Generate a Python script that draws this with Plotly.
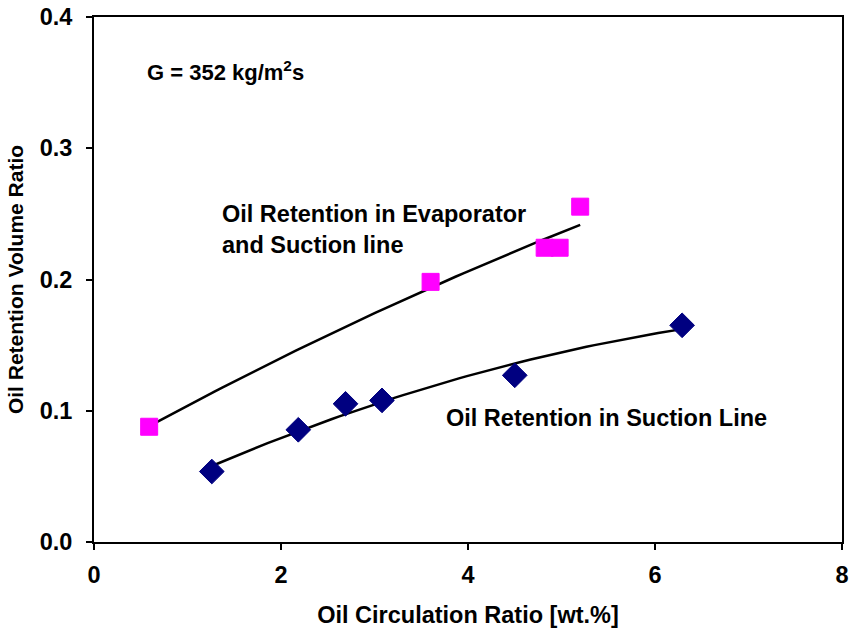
import numpy as np
import plotly.graph_objects as go

# Oil retention in evaporator and suction line (squares)
evap_x = [0.59, 3.60, 4.82, 4.98, 5.20]
evap_y = [0.0878, 0.1982, 0.2242, 0.2242, 0.2555]

# Oil retention in suction line (diamonds)
suct_x = [1.26, 2.185, 2.69, 3.08, 4.50, 6.29]
suct_y = [0.0537, 0.0855, 0.1053, 0.1079, 0.1270, 0.1651]

x_ticks = [0, 2, 4, 6, 8]
y_ticks = [0.0, 0.1, 0.2, 0.3, 0.4]

FONT = "Liberation Sans, Arial, sans-serif"
FS = 23.5


def trend(xs, ys):
    c = np.polyfit(xs, ys, 2)
    xx = np.linspace(min(xs), max(xs), 60)
    return xx, np.polyval(c, xx)


fig = go.Figure()

tx, ty = trend(evap_x, evap_y)
fig.add_trace(go.Scatter(x=tx, y=ty, mode="lines", line=dict(color="black", width=2.5),
                         hoverinfo="skip", showlegend=False))
tx2, ty2 = trend(suct_x, suct_y)
fig.add_trace(go.Scatter(x=tx2, y=ty2, mode="lines", line=dict(color="black", width=2.5),
                         hoverinfo="skip", showlegend=False))

fig.add_trace(go.Scatter(x=evap_x, y=evap_y, mode="markers", name="Evaporator and Suction line",
                         marker=dict(symbol="square", size=17, color="#FF00FF",
                                     line=dict(color="#FF00FF", width=1)),
                         showlegend=False))
fig.add_trace(go.Scatter(x=suct_x, y=suct_y, mode="markers", name="Suction Line",
                         marker=dict(symbol="diamond", size=19, color="#000080",
                                     line=dict(color="#000080", width=1)),
                         showlegend=False))

ann_font = dict(family=FONT, size=FS, color="black", weight="bold")
fig.add_annotation(x=0.545, y=0.3588, xref="x", yref="y", xanchor="left", yanchor="middle",
                   text="G = 352 kg/m<sup>2</sup>s", showarrow=False,
                   font=dict(family=FONT, size=22, color="black", weight="bold"))
fig.add_annotation(x=1.35, y=0.238, xref="x", yref="y", xanchor="left", yanchor="middle",
                   text="Oil Retention in Evaporator<br>and Suction line", showarrow=False,
                   align="left", font=ann_font)
fig.add_annotation(x=3.74, y=0.0947, xref="x", yref="y", xanchor="left", yanchor="middle",
                   text="Oil Retention in Suction Line", showarrow=False, font=ann_font)

axis_common = dict(showline=True, linecolor="black", linewidth=2, mirror=True,
                   ticks="outside", ticklen=6, tickwidth=2, tickcolor="black",
                   showgrid=False, zeroline=False, automargin=False,
                   tickfont=dict(family=FONT, size=FS, color="black", weight="bold"))

fig.update_xaxes(range=[0, 8], tickvals=x_ticks, ticktext=[str(v) for v in x_ticks],
                 ticklabelstandoff=5,
                 title=dict(text="Oil Circulation Ratio [wt.%]", standoff=19,
                            font=dict(family=FONT, size=FS, color="black", weight="bold")),
                 **axis_common)
fig.update_yaxes(range=[0, 0.4], tickvals=y_ticks, ticktext=[f"{v:.1f}" for v in y_ticks],
                 ticklabelstandoff=9,
                 title=dict(text="Oil Retention Volume Ratio", standoff=10,
                            font=dict(family=FONT, size=21, color="black", weight="bold")),
                 **axis_common)

fig.update_layout(width=853, height=631, margin=dict(l=94, r=11, t=17, b=89),
                  plot_bgcolor="white", paper_bgcolor="white", showlegend=False)

fig.write_html("out.html")
